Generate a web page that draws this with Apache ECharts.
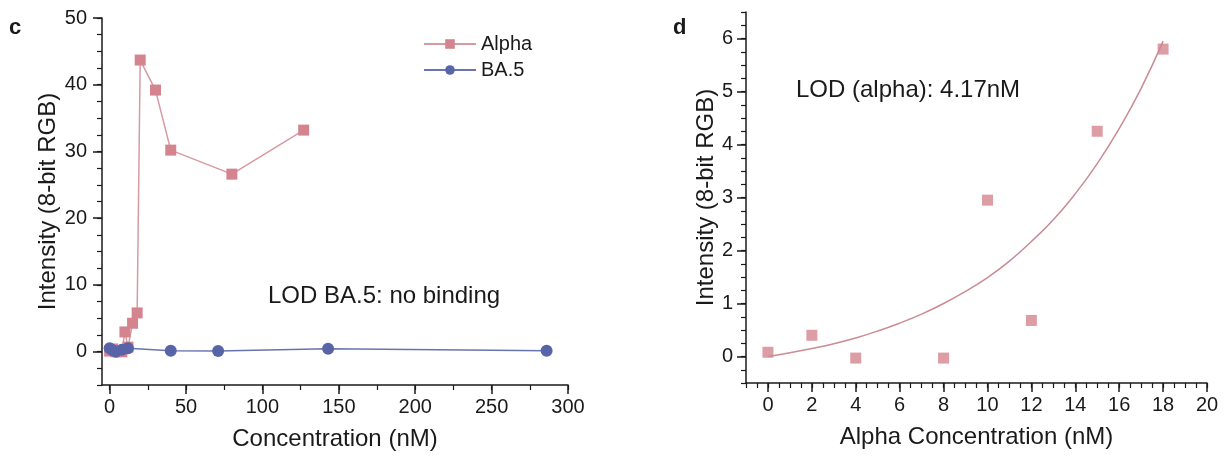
<!DOCTYPE html>
<html>
<head>
<meta charset="utf-8">
<script src="https://cdn.jsdelivr.net/npm/echarts@6/dist/echarts.min.js"></script>
<style>
html,body{margin:0;padding:0;background:#fff;}
#chart{width:1231px;height:459px;}
</style>
</head>
<body>
<div id="chart"></div>
<script>
// ---- Data (panel c) ----
const alphaConc = [0, 2, 4, 8, 10, 12, 15, 18, 20, 30, 40, 80, 127];
const alphaIntensity = [0.08, 0.4, -0.03, -0.03, 2.95, 0.68, 4.25, 5.8, 43.7, 39.2, 30.2, 26.6, 33.2];
const ba5Conc = [0, 2, 4, 8, 12, 40, 71, 143, 286];
const ba5Intensity = [0.5, 0.2, 0.0, 0.3, 0.5, 0.15, 0.1, 0.45, 0.15];

// ---- Data (panel d) ----
const dConc = [0, 2, 4, 8, 10, 12, 15, 18];
const dIntensity = [0.08, 0.4, -0.03, -0.03, 2.95, 0.68, 4.25, 5.8];
const fitConc = [0, 1, 2, 3, 4, 5, 6, 7, 8, 9, 10, 11, 12, 13, 14, 15, 16, 17, 18];
const fitIntensity = [0, 0.07, 0.15, 0.24, 0.35, 0.48, 0.63, 0.8, 1.0, 1.23, 1.49, 1.8, 2.17, 2.58, 3.07, 3.64, 4.3, 5.06, 5.95];

// ---- Tick labels ----
const cXTicks = [0, 50, 100, 150, 200, 250, 300];
const cXMinor = [0, 25, 50, 75, 100, 125, 150, 175, 200, 225, 250, 275, 300];
const cYTicks = [0, 10, 20, 30, 40, 50];
const cYMinor = [-5, -2.5, 0, 2.5, 5, 7.5, 10, 12.5, 15, 17.5, 20, 22.5, 25, 27.5, 30, 32.5, 35, 37.5, 40, 42.5, 45, 47.5, 50];
const dXTicks = [0, 2, 4, 6, 8, 10, 12, 14, 16, 18, 20];
const dXMinor = [-1, -0.5, 0, 0.5, 1, 1.5, 2, 2.5, 3, 3.5, 4, 4.5, 5, 5.5, 6, 6.5, 7, 7.5, 8, 8.5, 9, 9.5, 10, 10.5, 11, 11.5, 12, 12.5, 13, 13.5, 14, 14.5, 15, 15.5, 16, 16.5, 17, 17.5, 18, 18.5, 19, 19.5, 20];
const dYTicks = [0, 1, 2, 3, 4, 5, 6];
const dYMinor = [-0.5, -0.25, 0, 0.25, 0.5, 0.75, 1, 1.25, 1.5, 1.75, 2, 2.25, 2.5, 2.75, 3, 3.25, 3.5, 3.75, 4, 4.25, 4.5, 4.75, 5, 5.25, 5.5, 5.75, 6, 6.25, 6.5];

const zip = (a, b) => a.map((v, i) => [v, b[i]]);

const FONT = 'Liberation Sans, Arial, sans-serif';
const TXT = '#1a1a1a';
const PINK = '#d4848f';
const PINK_LINE = '#d69aa3';
const BLUE = '#5864a8';
const BLUE_LINE = '#6874ae';

function mainAxis(grid, pos, min, max, ticks, opts) {
  return Object.assign({
    type: 'value', gridIndex: grid, position: pos, min: min, max: max,
    axisLine: {show: true, onZero: false, lineStyle: {color: TXT, width: 1.5}},
    axisTick: {show: true, inside: false, length: 9, customValues: ticks, lineStyle: {color: TXT, width: 1.5}},
    axisLabel: {show: true, customValues: ticks, fontSize: 20, color: TXT, fontFamily: FONT},
    splitLine: {show: false},
    nameTextStyle: {fontSize: 24, color: TXT, fontFamily: FONT},
    nameLocation: 'middle'
  }, opts || {});
}
function minorAxis(grid, pos, min, max, ticks) {
  return {
    type: 'value', gridIndex: grid, position: pos, offset: 0, min: min, max: max,
    axisLine: {show: false, onZero: false},
    axisTick: {show: true, inside: false, length: 5, customValues: ticks, lineStyle: {color: TXT, width: 1.2}},
    axisLabel: {show: false},
    splitLine: {show: false}
  };
}
function lbl(ticks, margin) {
  return {customValues: ticks, fontSize: 20, color: TXT, fontFamily: FONT, margin: margin};
}

const chart = echarts.init(document.getElementById('chart'), null, {renderer: 'canvas'});
chart.setOption({
  animation: false,
  backgroundColor: '#ffffff',
  textStyle: {fontFamily: FONT},
  grid: [
    {left: 102, top: 18, width: 466, height: 367},
    {left: 746, top: 12, width: 461, height: 371}
  ],
  xAxis: [
    mainAxis(0, 'bottom', -5, 300, cXTicks, {name: 'Concentration (nM)', nameGap: 42, axisLabel: lbl(cXTicks, 12)}),
    minorAxis(0, 'bottom', -5, 300, cXMinor),
    mainAxis(1, 'bottom', -1, 20, dXTicks, {name: 'Alpha Concentration (nM)', nameGap: 42, axisLabel: lbl(dXTicks, 12)}),
    minorAxis(1, 'bottom', -1, 20, dXMinor)
  ],
  yAxis: [
    mainAxis(0, 'left', -5, 50, cYTicks, {name: 'Intensity (8-bit RGB)', nameGap: 42, axisLabel: lbl(cYTicks, 15)}),
    minorAxis(0, 'left', -5, 50, cYMinor),
    mainAxis(1, 'left', -0.5, 6.5, dYTicks, {name: 'Intensity (8-bit RGB)', nameGap: 20, axisLabel: lbl(dYTicks, 13)}),
    minorAxis(1, 'left', -0.5, 6.5, dYMinor)
  ],
  legend: {
    data: ['Alpha', 'BA.5'],
    orient: 'vertical',
    left: 418, top: 29,
    itemWidth: 52, itemHeight: 12, itemGap: 6,
    textStyle: {fontSize: 20, color: TXT, fontFamily: FONT}
  },
  series: [
    {
      name: 'Alpha', type: 'line', xAxisIndex: 0, yAxisIndex: 0,
      data: zip(alphaConc, alphaIntensity),
      symbol: 'rect', symbolSize: 11,
      itemStyle: {color: PINK},
      lineStyle: {color: PINK_LINE, width: 1.5}
    },
    {
      name: 'BA.5', type: 'line', xAxisIndex: 0, yAxisIndex: 0,
      data: zip(ba5Conc, ba5Intensity),
      symbol: 'circle', symbolSize: 12,
      itemStyle: {color: BLUE},
      lineStyle: {color: BLUE_LINE, width: 1.5}
    },
    {
      name: 'fit', type: 'line', xAxisIndex: 2, yAxisIndex: 2,
      data: zip(fitConc, fitIntensity),
      smooth: true, showSymbol: false, symbol: 'none',
      lineStyle: {color: '#c98b95', width: 1.5}
    },
    {
      name: 'Alpha d', type: 'scatter', xAxisIndex: 2, yAxisIndex: 2,
      data: zip(dConc, dIntensity),
      symbol: 'rect', symbolSize: 11,
      itemStyle: {color: PINK}
    }
  ],
  graphic: [
    {type: 'text', left: 9, top: 17, style: {text: 'c', fontSize: 22, fontWeight: 'bold', fill: TXT, fontFamily: FONT}},
    {type: 'text', left: 673, top: 17, style: {text: 'd', fontSize: 22, fontWeight: 'bold', fill: TXT, fontFamily: FONT}},
    {type: 'text', left: 268, top: 284, style: {text: 'LOD BA.5: no binding', fontSize: 24, fill: TXT, fontFamily: FONT}},
    {type: 'text', left: 796, top: 78, style: {text: 'LOD (alpha): 4.17nM', fontSize: 24, fill: TXT, fontFamily: FONT}}
  ]
});
</script>
</body>
</html>
